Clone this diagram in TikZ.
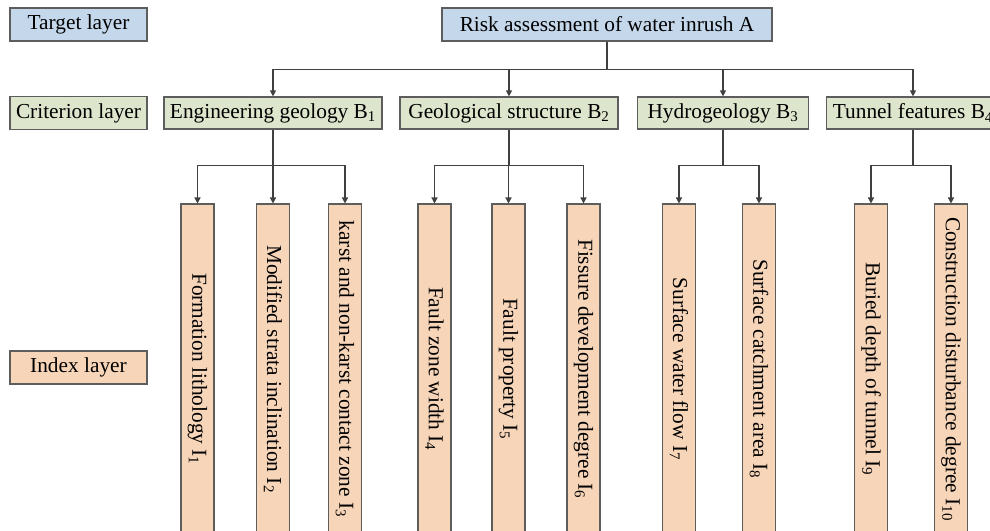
\documentclass[tikz,border=0pt]{standalone}
\usepackage{fontspec}
\setmainfont{Liberation Serif}
\usetikzlibrary{arrows.meta}
\definecolor{layerblue}{RGB}{197,216,235}
\definecolor{layergreen}{RGB}{222,229,205}
\definecolor{layerpeach}{RGB}{247,213,185}
\definecolor{linegray}{RGB}{64,64,64}
\begin{document}
\begin{tikzpicture}[x=0.75pt,y=-0.75pt,
  box/.style={draw=linegray!85,line width=0.9pt,inner sep=0pt,font=\fontsize{16}{19}\selectfont},
  layerbox/.style={box,minimum width=102.75pt,minimum height=24.75pt},
  critbox/.style={box,fill=layergreen,minimum height=24pt},
  indexbox/.style={box,fill=layerpeach,rotate=-90,anchor=west,minimum width=247.5pt,minimum height=24.75pt},
  link/.style={draw=linegray,line width=1pt},
  arr/.style={link,-{Triangle[length=4.5pt,width=4.5pt]}}]
\useasboundingbox (0,0) rectangle (990,531);
\clip (0,0) rectangle (990,531);

% Layer labels
\node[layerbox,fill=layerblue] (tgt) at (78.5,24.5) {Target layer};
\node[layerbox,fill=layergreen] (crit) at (78.5,113) {Criterion layer};
\node[layerbox,fill=layerpeach] (idx) at (78.5,367.5) {Index layer};

% Target
\node[box,fill=layerblue,minimum width=247.5pt,minimum height=24.75pt] (A) at (607,24.5) {Risk assessment of water inrush A};

% Criteria
\node[critbox,minimum width=163.5pt] (B1) at (273,113) {Engineering geology B\textsubscript{1}};
\node[critbox,minimum width=163.5pt] (B2) at (509,113) {Geological structure B\textsubscript{2}};
\node[critbox,minimum width=128.25pt] (B3) at (723,113) {Hydrogeology B\textsubscript{3}};
\node[critbox,minimum width=129.75pt] (B4) at (913,113) {Tunnel features B\textsubscript{4}};

% Indices
\foreach \i/\x/\txt in {1/197.5/Formation lithology,
  2/273/Modified strata inclination,
  3/345/karst and non-karst contact zone,
  4/434.5/Fault zone width,
  5/508.5/Fault property,
  6/583.5/Fissure development degree,
  7/679/Surface water flow,
  8/759/Surface catchment area,
  9/871/Buried depth of tunnel,
  10/951/Construction disturbance degree}
  \node[indexbox] (I\i) at (\x,203.5) {\txt{} I\textsubscript{\i}};

% Connectors A -> B
\draw[link] (A.south) -- ++(0,28) coordinate (jA);
\foreach \b in {1,...,4}
  \draw[arr] (jA) -| (B\b.north);

% Connectors B -> I
\foreach \b/\list in {1/{1,2,3},2/{4,5,6},3/{7,8},4/{9,10}} {
  \draw[link] (B\b.south) -- ++(0,36) coordinate (j\b);
  \foreach \i in \list
    \draw[arr] (j\b) -| (I\i.west);
}
\end{tikzpicture}
\end{document}
